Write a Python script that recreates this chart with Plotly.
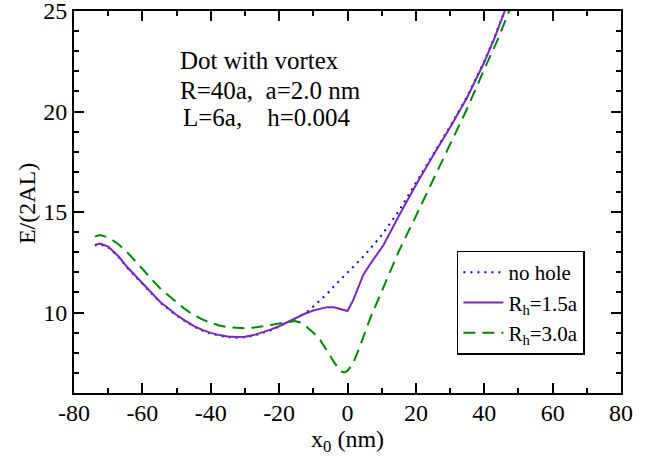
import plotly.graph_objects as go

# ---- data ----
x_nohole = [-73.9, -72.4, -70, -67, -64.6, -62, -59.7, -57, -54.85, -52, -50, -47.5, -45, -42.5,
            -40, -37.5, -35, -32.5, -30, -27.5, -25, -22.5, -20, -17.5, -15, -12.5, -11, -8, -6,
            -4, -2, 0, 2, 5, 10, 15, 20, 25, 30, 35, 40, 43, 46, 48]
y_nohole = [13.33, 13.40, 13.25, 12.77, 12.26, 11.79, 11.35, 10.87, 10.51, 10.12, 9.85, 9.57,
            9.31, 9.11, 8.96, 8.85, 8.78, 8.75, 8.77, 8.85, 8.97, 9.12, 9.30, 9.51, 9.73, 9.96,
            10.15, 10.6, 10.93, 11.3, 11.63, 11.95, 12.33, 12.85, 13.85, 15.05, 16.45, 17.85,
            19.25, 20.75, 22.5, 23.7, 25.05, 25.9]

x_rh15 = [-73.9, -72.4, -70, -67, -64.6, -62, -59.7, -57, -54.85, -52, -50, -47.5, -45, -42.5,
          -40, -37.5, -35, -32.5, -30, -27.5, -25, -22.5, -20, -17.5, -15, -12.5, -10, -8, -6,
          -4, -2, 0, 1.7, 3.2, 4.6, 6.6, 10.5, 15, 20, 25, 30, 35, 40, 43, 46, 48]
y_rh15 = [13.36, 13.43, 13.28, 12.80, 12.29, 11.82, 11.38, 10.90, 10.54, 10.15, 9.88, 9.60,
          9.34, 9.14, 8.99, 8.88, 8.81, 8.78, 8.80, 8.88, 9.00, 9.15, 9.32, 9.53, 9.74, 9.94,
          10.10, 10.20, 10.27, 10.26, 10.18, 10.08, 10.63, 11.30, 11.87, 12.40, 13.35, 14.80,
          16.35, 17.80, 19.20, 20.70, 22.45, 23.65, 25.0, 25.9]

x_rh30 = [-73.9, -72.4, -70, -67, -64.6, -62, -59.7, -57, -54.85, -52, -50, -47.5, -45, -42.5,
          -40, -37.5, -35, -32.5, -30, -27.5, -25, -22.5, -20, -17.5, -15.5, -14, -12, -10, -8,
          -6, -4, -2, -1, 0, 1.7, 3.6, 5, 6.6, 8.5, 11.5, 15, 20, 25, 30, 35, 40, 44, 47.3, 49]
y_rh30 = [13.78, 13.86, 13.74, 13.40, 13.03, 12.57, 12.12, 11.60, 11.21, 10.80, 10.50, 10.17,
          9.88, 9.66, 9.49, 9.36, 9.27, 9.23, 9.22, 9.25, 9.30, 9.38, 9.46, 9.54, 9.58, 9.52,
          9.30, 9.00, 8.64, 8.10, 7.55, 7.08, 7.02, 7.10, 7.50, 8.30, 9.00, 9.70, 10.46, 11.70,
          13.05, 14.80, 16.60, 18.35, 20.15, 22.10, 23.60, 25.0, 25.7]

series_names = ["no hole", "R<sub>h</sub>=1.5a", "R<sub>h</sub>=3.0a"]

x_tickvals = [-80, -60, -40, -20, 0, 20, 40, 60, 80]
x_ticktext = ["-80", "-60", "-40", "-20", "0", "20", "40", "60", "80"]
y_tickvals = [10, 15, 20, 25]
y_ticktext = ["10", "15", "20", "25"]

x_title = "x<sub>0</sub> (nm)"
y_title = "E/(2AL)"
annotation_lines = ["Dot with vortex", "R=40a,  a=2.0 nm", "L=6a,    h=0.004"]

FONT = "Liberation Serif"

fig = go.Figure()
fig.add_trace(go.Scatter(x=x_nohole, y=y_nohole, mode="lines", name=series_names[0],
                         line=dict(color="rgb(0,0,255)", width=2, dash="2px,5px")))
fig.add_trace(go.Scatter(x=x_rh15, y=y_rh15, mode="lines", name=series_names[1],
                         line=dict(color="rgb(120,40,200)", width=2)))
fig.add_trace(go.Scatter(x=x_rh30, y=y_rh30, mode="lines", name=series_names[2],
                         line=dict(color="rgb(0,139,0)", width=2, dash="12px,7px")))

axis_common = dict(
    showline=True, linecolor="black", linewidth=2, mirror="allticks",
    ticks="inside", ticklen=10, tickwidth=1.5, tickcolor="black",
    showgrid=False, zeroline=False, automargin=False, ticklabeloverflow="allow",
    tickfont=dict(family=FONT, size=24, color="black"),
)

fig.update_xaxes(range=[-80, 80], tickmode="array", tickvals=x_tickvals, ticktext=x_ticktext,
                 ticklabelstandoff=-3,
                 minor=dict(ticks="inside", ticklen=5, dtick=10, tick0=0, tickcolor="black",
                            tickwidth=1.5, showgrid=False),
                 **axis_common)
fig.update_yaxes(range=[6, 25], tickmode="array", tickvals=y_tickvals, ticktext=y_ticktext,
                 minor=dict(ticks="inside", ticklen=5, dtick=1, tick0=0, tickcolor="black",
                            tickwidth=1.5, showgrid=False),
                 **axis_common)

# axis titles as positioned annotations
fig.add_annotation(text=x_title, x=0.5, y=-0.082, xref="paper", yref="paper",
                   xanchor="center", yanchor="top", showarrow=False,
                   font=dict(family=FONT, size=24, color="black"))
fig.add_annotation(text=y_title, x=-0.086, y=0.497, xref="paper", yref="paper",
                   xanchor="center", yanchor="middle", showarrow=False, textangle=-90,
                   font=dict(family=FONT, size=24, color="black"))

ann_y = [0.870, 0.793, 0.720]
ann_x = [0.190, 0.190, 0.196]
for txt, ax, ay in zip(annotation_lines, ann_x, ann_y):
    fig.add_annotation(text=txt, x=ax, y=ay, xref="paper", yref="paper",
                       xanchor="left", yanchor="middle", showarrow=False,
                       font=dict(family=FONT, size=25, color="black"))

fig.update_layout(
    width=665, height=458,
    margin=dict(l=74, r=44, t=11, b=65),
    paper_bgcolor="white", plot_bgcolor="white",
    showlegend=True,
    legend=dict(x=0.70, y=0.373, xanchor="left", yanchor="top",
                bordercolor="black", borderwidth=1.5, bgcolor="white",
                font=dict(family=FONT, size=21, color="black"),
                tracegroupgap=0, itemwidth=40),
)

fig.write_html("out.html")
